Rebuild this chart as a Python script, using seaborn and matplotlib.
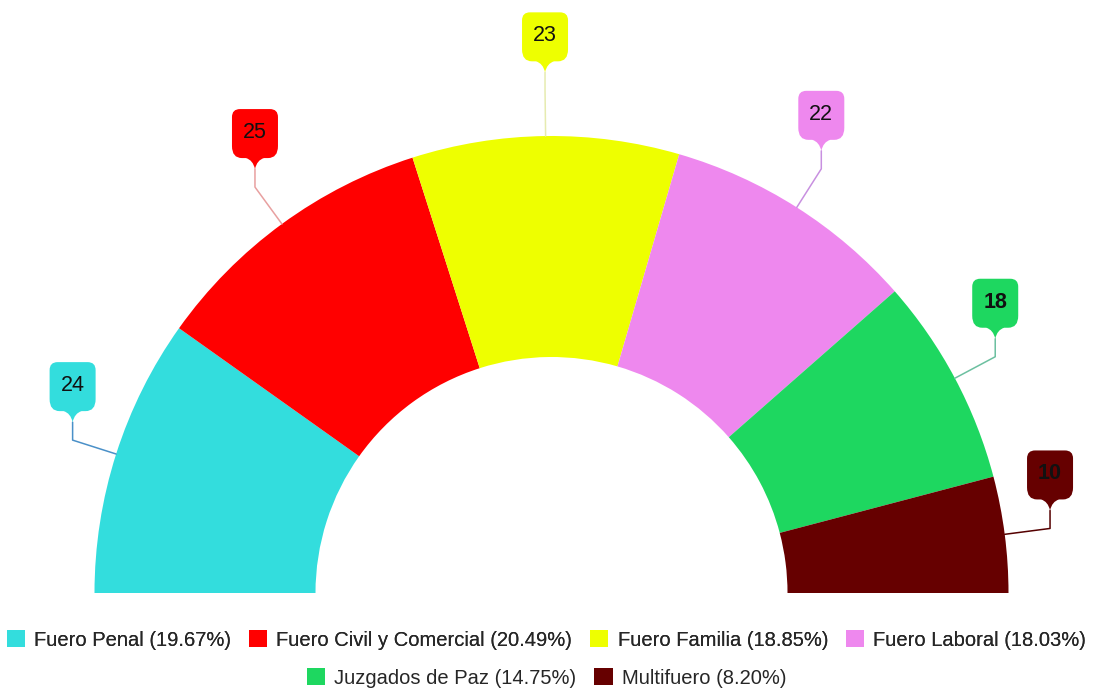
import numpy as np
import matplotlib
matplotlib.use('Agg')
import matplotlib.pyplot as plt
from matplotlib.patches import Patch, PathPatch
from matplotlib.path import Path
import seaborn as sns

# Data
categories = ['Fuero Penal', 'Fuero Civil y Comercial', 'Fuero Familia',
              'Fuero Laboral', 'Juzgados de Paz', 'Multifuero']
counts = [24, 25, 23, 22, 18, 10]
colors = ['#33DDDD', '#FF0000', '#EEFF00', '#EE88EE', '#1ED760', '#660000']
line_colors = ['#4A90C8', '#E8A0A0', '#E6EBB0', '#C890E0', '#6CC0A0', '#550000']
bold_labels = [False, False, False, False, True, True]

sns.set_style('white')
plt.rcParams['font.family'] = ['Liberation Sans', 'DejaVu Sans']

fig = plt.figure(figsize=(10.93, 6.91), dpi=100)
ax = fig.add_axes([0, 0, 1, 1])

total = sum(counts)
cx, cy = 551.5, 98   # centre of the half donut (pixel units, y up)
R = 457
W = 221

# half donut: a hidden wedge fills the bottom half
wedges, _ = ax.pie(counts + [total], colors=colors + ['white'], startangle=180,
                   counterclock=False, radius=R, center=(cx, cy),
                   wedgeprops=dict(width=W, linewidth=0))
wedges[-1].set_visible(False)


def pin(x, y_tip, color):
    # callout box with rounded top and a pointed bottom
    w, h, neck = 46, 49, 11
    left, right = x - w / 2, x + w / 2
    bot = y_tip + neck
    top = bot + h
    r = 8
    verts = [(x, y_tip),
             (x - 2, bot - 2), (x - 9, bot),
             (left + 10, bot),
             (left, bot), (left, bot + 12),
             (left, top - r),
             (left, top), (left + r, top),
             (right - r, top),
             (right, top), (right, top - r),
             (right, bot + 12),
             (right, bot), (right - 10, bot),
             (x + 9, bot),
             (x + 2, bot - 2), (x, y_tip),
             (x, y_tip)]
    codes = [Path.MOVETO,
             Path.CURVE3, Path.CURVE3,
             Path.LINETO,
             Path.CURVE3, Path.CURVE3,
             Path.LINETO,
             Path.CURVE3, Path.CURVE3,
             Path.LINETO,
             Path.CURVE3, Path.CURVE3,
             Path.LINETO,
             Path.CURVE3, Path.CURVE3,
             Path.LINETO,
             Path.CURVE3, Path.CURVE3,
             Path.CLOSEPOLY]
    ax.add_patch(PathPatch(Path(verts, codes), facecolor=color, edgecolor='none', zorder=4))
    return bot + h / 2 + 1


for w, n, col, lc, bold in zip(wedges[:-1], counts, colors, line_colors, bold_labels):
    ang = np.deg2rad((w.theta1 + w.theta2) / 2)
    x0, y0 = cx + R * np.cos(ang), cy + R * np.sin(ang)
    x1, y1 = cx + 1.1 * R * np.cos(ang), cy + 1.1 * R * np.sin(ang)
    y_tip = y1 + 18
    ax.plot([x0, x1, x1], [y0, y1, y_tip], color=lc, lw=1.1, zorder=3)
    ty = pin(x1, y_tip, col)
    ax.text(x1, ty, str(n), ha='center', va='center', fontsize=15.5,
            color='#111111', fontweight='bold' if bold else 'normal', zorder=5)

ax.set_xlim(0, 1093)
ax.set_ylim(0, 691)
ax.set_aspect('equal')
ax.axis('off')

# legend in two centred rows
handles = [Patch(facecolor=c, edgecolor='none',
                 label=f'{cat} ({n / total * 100:.2f}%)')
           for cat, n, c in zip(categories, counts, colors)]
leg_kw = dict(frameon=False, fontsize=14.5, handlelength=0.9, handleheight=0.9,
              handletextpad=0.45, columnspacing=0.9, borderpad=0, loc='center')
leg1 = fig.legend(handles=handles[:4], ncol=4, bbox_to_anchor=(0.5, 0.074), **leg_kw)
fig.add_artist(leg1)
fig.legend(handles=handles[4:], ncol=2, bbox_to_anchor=(0.5, 0.019), **leg_kw)

fig.savefig('out.png', dpi=100, facecolor='white')
